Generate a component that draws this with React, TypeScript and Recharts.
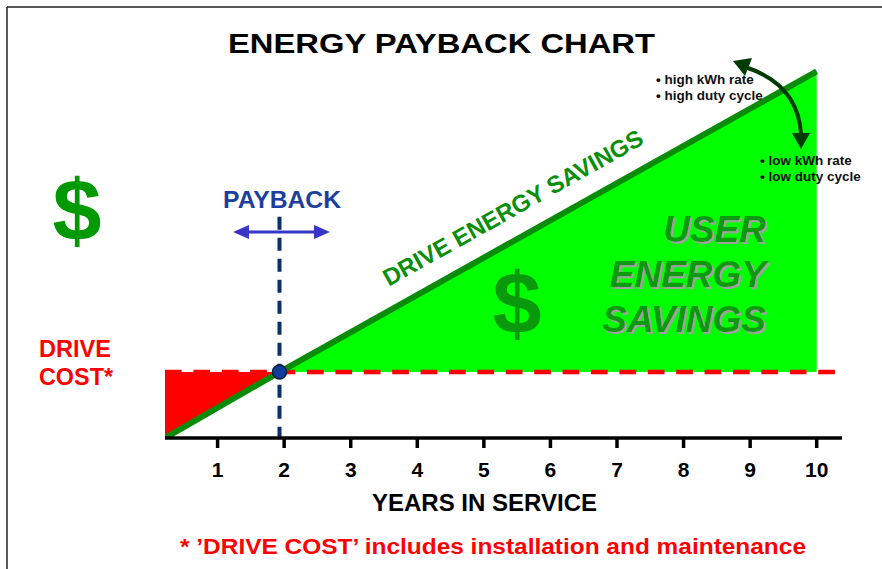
import {
  Area,
  ComposedChart,
  Line,
  ReferenceDot,
  ReferenceLine,
  XAxis,
  YAxis,
} from 'recharts'

// years in service vs cumulative dollars (arbitrary units, one y tick = 1)
const years = [0.21, 1.93, 10]
const savings = [0, 1.7, 9.45]
const driveCost = 1.7
const paybackYear = 1.93
const paybackLineTop = 5.7
const costLineEnd = 10.3

const xTicks = [1, 2, 3, 4, 5, 6, 7, 8, 9, 10]
const yTicks = [0.76, 1.76, 2.76, 3.76, 4.76, 5.76, 6.76, 7.76, 8.76, 9.76]
const xDomain = [0.21, 10.38]
const yDomain = [0, 10.155]

const userLines = ['USER', 'ENERGY', 'SAVINGS']

const FONT = '"Liberation Sans", Arial, Helvetica, sans-serif'

const data = years.map((year, i) => ({
  year,
  savings: savings[i],
  cost: year <= paybackYear ? [savings[i], driveCost] : null,
  gain: year >= paybackYear ? [driveCost, savings[i]] : null,
}))

function YearTick({ x, y, payload }: any) {
  return (
    <text
      x={x}
      y={y}
      dy={27}
      textAnchor="middle"
      fontFamily={FONT}
      fontWeight="bold"
      fontSize={21}
      fill="#000"
    >
      {payload.value}
    </text>
  )
}

function NoTick() {
  return <g />
}

function Overlay() {
  const dark = '#0a990a'
  return (
    <svg
      width={882}
      height={569}
      style={{ position: 'absolute', left: 0, top: 0, pointerEvents: 'none' }}
      fontFamily={FONT}
    >
      <defs>
        <filter id="greyShadow" x="-10%" y="-10%" width="130%" height="140%">
          <feDropShadow dx={2} dy={2} stdDeviation={0.3} floodColor="#a0a0a0" floodOpacity={1} />
        </filter>
      </defs>
      <line x1={7} y1={7} x2={882} y2={7} stroke="#222" strokeWidth={1.5} />
      <line x1={7} y1={7} x2={7} y2={569} stroke="#222" strokeWidth={1.5} />

      <text x={441.5} y={53} textAnchor="middle" fontSize={27} fontWeight="bold" textLength={427} lengthAdjust="spacingAndGlyphs">
        ENERGY PAYBACK CHART
      </text>

      <text x={77} y={241} textAnchor="middle" fontSize={88} fontWeight="bold" fill="#009900">$</text>
      <text x={39} y={357} fontSize={23} fontWeight="bold" fill="#ff0000" textLength={72} lengthAdjust="spacingAndGlyphs">DRIVE</text>
      <text x={39} y={385} fontSize={23} fontWeight="bold" fill="#ff0000" textLength={74} lengthAdjust="spacingAndGlyphs">COST*</text>

      <text x={282} y={208} textAnchor="middle" fontSize={23} fontWeight="bold" fill="#1c3f9e" textLength={118} lengthAdjust="spacingAndGlyphs">PAYBACK</text>
      <line x1={246} y1={232} x2={317} y2={232} stroke="#3535c8" strokeWidth={3} />
      <polygon points="233,232 249,225 249,239" fill="#3535c8" />
      <polygon points="330,232 314,225 314,239" fill="#3535c8" />

      <text
        x={517}
        y={215}
        textAnchor="middle"
        fontSize={24}
        fontWeight="bold"
        fill="#0a8f0a"
        textLength={294}
        lengthAdjust="spacingAndGlyphs"
        transform="rotate(-29.2 517 215)"
      >
        DRIVE ENERGY SAVINGS
      </text>

      <text x={517} y={334} textAnchor="middle" fontSize={88} fontWeight="bold" fill={dark}>$</text>

      {userLines.map((t, i) => (
        <text
          key={t}
          x={766}
          y={242 + i * 45}
          textAnchor="end"
          fontSize={37}
          fontWeight="bold"
          fontStyle="italic"
          fill={dark}
          filter="url(#greyShadow)"
        >
          {t}
        </text>
      ))}

      <text x={656} y={84} fontSize={13.5} fontWeight="bold" fill="#111">• high kWh rate</text>
      <text x={656} y={100} fontSize={13.5} fontWeight="bold" fill="#111">• high duty cycle</text>
      <text x={760} y={165} fontSize={13.5} fontWeight="bold" fill="#111">• low kWh rate</text>
      <text x={760} y={181} fontSize={13.5} fontWeight="bold" fill="#111">• low duty cycle</text>

      <path d="M 745 67 Q 798 84 801 134" fill="none" stroke="#003b00" strokeWidth={4} />
      <polygon points="733,61 752,58 745,76" fill="#003b00" />
      <polygon points="792,133 810,133 801,149" fill="#003b00" />

      <text x={484.5} y={511} textAnchor="middle" fontSize={24} fontWeight="bold" textLength={225} lengthAdjust="spacingAndGlyphs">
        YEARS IN SERVICE
      </text>
      <text x={493} y={554} textAnchor="middle" fontSize={22} fontWeight="bold" fill="#ff0000" textLength={626} lengthAdjust="spacingAndGlyphs">
        * {'\u2019'}DRIVE COST{'\u2019'} includes installation and maintenance
      </text>
    </svg>
  )
}

export default function App() {
  return (
    <div style={{ position: 'absolute', left: 0, top: 0, width: 882, height: 569, overflow: 'hidden', background: '#fff' }}>
      <ComposedChart
        width={882}
        height={569}
        data={data}
        margin={{ top: 44, right: 40, bottom: 101, left: 165 }}
      >
        <XAxis
          dataKey="year"
          type="number"
          scale="linear"
          domain={xDomain}
          ticks={xTicks}
          allowDataOverflow
          height={30}
          tickSize={10}
          tick={<YearTick />}
          axisLine={{ stroke: '#000', strokeWidth: 3.5 }}
          tickLine={{ stroke: '#000', strokeWidth: 3.5 }}
        />
        <YAxis
          type="number"
          domain={yDomain}
          ticks={yTicks}
          allowDataOverflow
          width={0}
          tickSize={10}
          tick={<NoTick />}
          axisLine={{ stroke: '#000', strokeWidth: 4 }}
          tickLine={{ stroke: '#000', strokeWidth: 3.5 }}
        />
        <Area
          type="linear"
          dataKey="cost"
          fill="#ff0000"
          fillOpacity={1}
          stroke="none"
          isAnimationActive={false}
        />
        <Area
          type="linear"
          dataKey="gain"
          fill="#00ff00"
          fillOpacity={1}
          stroke="none"
          isAnimationActive={false}
        />
        <ReferenceLine
          segment={[
            { x: years[0], y: driveCost },
            { x: costLineEnd, y: driveCost },
          ]}
          stroke="#ff0000"
          strokeWidth={4.5}
          strokeDasharray="16.7 11.7"
        />
        <Line
          type="linear"
          dataKey="savings"
          stroke="#0a8c0a"
          strokeWidth={6}
          dot={false}
          activeDot={false}
          isAnimationActive={false}
        />
        <ReferenceLine
          segment={[
            { x: paybackYear, y: paybackLineTop },
            { x: paybackYear, y: 0 },
          ]}
          stroke="#0b2f66"
          strokeWidth={4}
          strokeDasharray="13 8"
        />
        <ReferenceDot
          x={paybackYear}
          y={driveCost}
          r={7}
          fill="#123c9c"
          stroke="#0a1a3a"
          strokeWidth={1.5}
        />
      </ComposedChart>
      <Overlay />
    </div>
  )
}
